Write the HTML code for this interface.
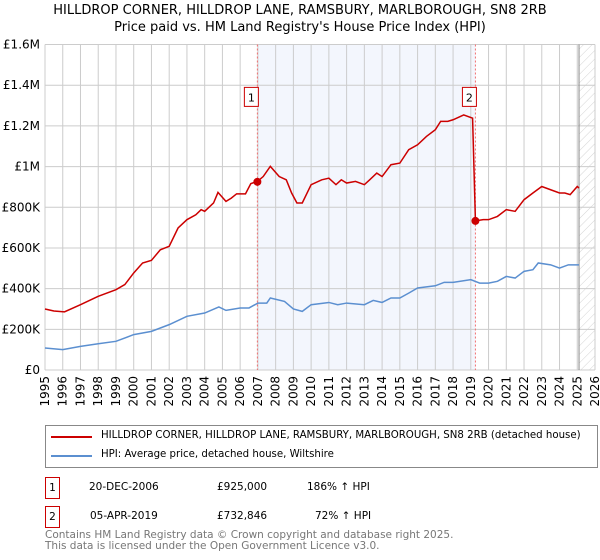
<!DOCTYPE html>
<html><head><meta charset="utf-8"><style>
body{margin:0;background:#fff;font-family:"DejaVu Sans","Liberation Sans",sans-serif;}
#wrap{position:relative;width:600px;height:560px;overflow:hidden;}
</style></head><body><div id="wrap">
<svg id="svg" width="600" height="560" xmlns="http://www.w3.org/2000/svg" style="position:absolute;left:0;top:0;font-family:'DejaVu Sans',sans-serif">
<defs><pattern id="hatch" width="6" height="6" patternUnits="userSpaceOnUse" patternTransform="rotate(45)"><line x1="0" y1="0" x2="0" y2="6" stroke="#d4d4d4" stroke-width="1"/></pattern></defs>
<text x="300" y="14" text-anchor="middle" font-size="13" fill="#000">HILLDROP CORNER, HILLDROP LANE, RAMSBURY, MARLBOROUGH, SN8 2RB</text>
<text x="300" y="31" text-anchor="middle" font-size="13" fill="#000">Price paid vs. HM Land Registry's House Price Index (HPI)</text>
<g id="plot"></g>
</svg>
<div style="position:absolute;left:45px;top:425px;width:551px;height:41px;border:1px solid #888;font-size:10.2px;">
 <div style="position:absolute;left:5px;top:10px;width:41px;height:2px;background:#cc0000"></div>
 <div style="position:absolute;left:55px;top:4px;white-space:nowrap">HILLDROP CORNER, HILLDROP LANE, RAMSBURY, MARLBOROUGH, SN8 2RB (detached house)</div>
 <div style="position:absolute;left:5px;top:29px;width:41px;height:2px;background:#5b8fd0"></div>
 <div style="position:absolute;left:55px;top:23px;white-space:nowrap">HPI: Average price, detached house, Wiltshire</div>
</div>
<div style="font-size:10.5px;">
 <div style="position:absolute;left:45px;top:477px;width:13px;height:20px;border:1px solid #cc0000;text-align:center;line-height:20px">1</div>
 <div style="position:absolute;left:89px;top:481px">20-DEC-2006</div>
 <div style="position:absolute;left:217px;top:481px">£925,000</div>
 <div style="position:absolute;left:307px;top:481px">186% ↑ HPI</div>
 <div style="position:absolute;left:45px;top:506px;width:13px;height:20px;border:1px solid #cc0000;text-align:center;line-height:20px">2</div>
 <div style="position:absolute;left:90px;top:510px">05-APR-2019</div>
 <div style="position:absolute;left:217px;top:510px">£732,846</div>
 <div style="position:absolute;left:315px;top:510px">72% ↑ HPI</div>
</div>
<div style="position:absolute;left:45px;top:530px;font-size:10.5px;color:#777;line-height:11px">Contains HM Land Registry data © Crown copyright and database right 2025.<br>This data is licensed under the Open Government Licence v3.0.</div>
</div>
<script>
const redT=[1995,1995.5,1996.1,1997,1998,1999,1999.5,2000,2000.5,2001,2001.5,2002,2002.5,2003,2003.5,2003.8,2004,2004.5,2004.75,2005.2,2005.5,2005.8,2006.3,2006.6,2006.97,2007.3,2007.7,2008.2,2008.6,2008.9,2009.2,2009.5,2010,2010.6,2011,2011.4,2011.7,2012,2012.5,2013,2013.3,2013.7,2014,2014.5,2015,2015.5,2016,2016.5,2017,2017.3,2017.7,2018,2018.6,2019.1,2019.26,2019.7,2020,2020.5,2021,2021.5,2022,2022.5,2023,2023.5,2024,2024.3,2024.6,2025,2025.1];
const redV=[300,290,286,321,362,395,420,477,526,539,591,608,698,739,763,788,780,821,873,829,845,866,866,916,927,951,1001,951,935,870,821,821,911,935,943,911,935,919,927,911,935,968,951,1009,1017,1083,1107,1148,1181,1222,1222,1230,1254,1238,733,739,739,755,788,780,837,870,902,886,870,870,862,902,894];
const blueT=[1995,1996,1997,1998,1999,2000,2001,2002,2003,2004,2004.8,2005.2,2006,2006.5,2007,2007.5,2007.7,2008.5,2009,2009.5,2010,2011,2011.5,2012,2013,2013.5,2014,2014.5,2015,2015.5,2016,2017,2017.5,2018,2019,2019.5,2020,2020.5,2021,2021.5,2022,2022.5,2022.8,2023.5,2024,2024.5,2025,2025.1];
const blueV=[108,100,116,129,141,174,190,223,264,280,310,293,305,305,329,329,354,337,300,288,321,332,321,329,321,342,332,354,354,378,403,414,431,431,444,427,427,436,460,452,485,493,526,517,501,517,517,517];
const yTicks=[0,200,400,600,800,1000,1200,1400,1600];
const yLabels=["£0","£200K","£400K","£600K","£800K","£1M","£1.2M","£1.4M","£1.6M"];
const xYears=[1995,1996,1997,1998,1999,2000,2001,2002,2003,2004,2005,2006,2007,2008,2009,2010,2011,2012,2013,2014,2015,2016,2017,2018,2019,2020,2021,2022,2023,2024,2025,2026];
const saleT=[2006.97,2019.26];
const saleV=[925,732.8];
const saleLabels=["1","2"];
const X0=45,X1=595,Y0=370,Y1=44.5;
const xs=t=>X0+(t-1995)/31*(X1-X0);
const ys=v=>Y0-v/1600*(Y0-Y1);
const NS="http://www.w3.org/2000/svg";
const g=document.getElementById('plot');
function mk(tag,attrs){const e=document.createElementNS(NS,tag);for(const k in attrs)e.setAttribute(k,attrs[k]);g.appendChild(e);return e;}
let e;
e=mk('rect',{x:xs(2007),y:Y1,width:xs(saleT[1])-xs(2007),height:Y0-Y1,fill:'#f3f6fd'});


e=mk('rect',{x:xs(2025.1),y:Y1,width:X1-xs(2025.1),height:Y0-Y1,fill:'url(#hatch)'});


xYears.forEach(y=>{e=mk('line',{x1:xs(y),x2:xs(y),y1:Y1,y2:Y0,stroke:'#ccc','stroke-width':1});


e=mk('text',{x:0,y:0,'font-size':12,'text-anchor':'end',transform:`translate(${xs(y)+4},${Y0+6}) rotate(-90)`,fill:'#000'});e.textContent=y;

});
yTicks.forEach((v,i)=>{e=mk('line',{x1:X0,x2:X1,y1:ys(v),y2:ys(v),stroke:'#ccc','stroke-width':1});


e=mk('text',{x:X0-5,y:ys(v)+4,'font-size':12,'text-anchor':'end',fill:'#000'});e.textContent=yLabels[i];

});
e=mk('line',{x1:xs(2025.1),x2:xs(2025.1),y1:Y1,y2:Y0,stroke:'#888','stroke-width':1});


saleT.forEach((t,i)=>{e=mk('line',{x1:xs(t),x2:xs(t),y1:Y1,y2:Y0,stroke:'#f07070','stroke-width':1,'stroke-dasharray':'2,2'});

});
e=mk('polyline',{points:blueT.map((t,i)=>xs(t)+','+ys(blueV[i])).join(' '),fill:'none',stroke:'#5b8fd0','stroke-width':1.5});


e=mk('polyline',{points:redT.map((t,i)=>xs(t)+','+ys(redV[i])).join(' '),fill:'none',stroke:'#cc0000','stroke-width':1.5});


saleT.forEach((t,i)=>{e=mk('circle',{cx:xs(t),cy:ys(saleV[i]),r:4,fill:'#cc0000'});


e=mk('rect',{x:xs(t)-13,y:ys(1340)-10,width:14,height:19,fill:'#fff',stroke:'#cc0000','stroke-width':1});


e=mk('text',{x:xs(t)-6,y:ys(1340)+4,'font-size':11,'text-anchor':'middle',fill:'#000'});e.textContent=saleLabels[i];

});
</script>
</body></html>
